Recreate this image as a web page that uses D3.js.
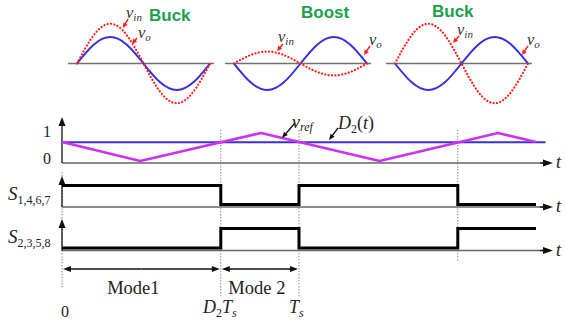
<!DOCTYPE html>
<html>
<head>
<meta charset="utf-8">
<script src="https://cdn.jsdelivr.net/npm/d3@7/dist/d3.min.js"></script>
<style>
  html, body { margin: 0; padding: 0; background: #fff; }
  svg { display: block; }
  .serif { font-family: "Liberation Serif", "Times New Roman", serif; }
  .mode-name { font-family: "Liberation Sans", Arial, sans-serif; font-weight: bold; }
</style>
</head>
<body>
<script>
// ---- Data ----
// Operating modes of the three sinusoid sketches
const modeNames = ["Buck", "Boost", "Buck"];
// Peak of input (red dotted) and output (blue) waves, relative to |vo| = 1
const vinAmp = [1.5, 0.45, 1.5];
const voAmp = [1.0, -1.0, -1.0];
// One period of a sine sampled every eighth of a cycle
const sinePhase = [0, 1, 2, 3, 4, 5, 6, 7, 8];
const sineShape = [0, 0.71, 1, 0.71, 0, -0.71, -1, -0.71, 0];

// Triangular carrier (time in units of Ts, value 0..1)
const carrierT = [0, 0.33, 0.84, 1.34, 1.84, 2.0];
const carrierV = [0.68, 0, 1, 0, 1, 0.68];
// Reference (duty) level D2(t)
const D2 = 0.67;
const refSpan = [0, 2.04];
const carrierTicks = [0, 1];

// Gate signals (step after)
const switchT = [0, 0.67, 1, 1.67, 2.0];
const s1Level = [1, 0, 1, 0, 0];
const s2Level = [0, 1, 0, 1, 1];

// Time marks and mode intervals
const markT = [0, 0.67, 1, 1.67];
const modeLabels = ["Mode1", "Mode 2"];
const modeBounds = [0, 0.67, 1];

// ---- Drawing ----
const W = 565, H = 322;
const svg = d3.select("body").append("svg").attr("width", W).attr("height", H);
svg.append("rect").attr("width", W).attr("height", H).attr("fill", "#fff");

const BLUE = "#3b2fd8", RED = "#ff1f1f", MAG = "#cc33f0", GREEN = "#1d9f4b";
const AX = "#666";

function arrow(g, x1, y1, x2, y2, color, len, wid, sw) {
  const dx = x2 - x1, dy = y2 - y1, L = Math.hypot(dx, dy);
  const ux = dx / L, uy = dy / L, px = -uy, py = ux;
  const bx = x2 - ux * len, by = y2 - uy * len;
  g.append("line").attr("x1", x1).attr("y1", y1).attr("x2", bx + ux * 1).attr("y2", by + uy * 1)
    .attr("stroke", color).attr("stroke-width", sw);
  g.append("path")
    .attr("d", `M${x2},${y2}L${bx + px * wid / 2},${by + py * wid / 2}L${bx - px * wid / 2},${by - py * wid / 2}Z`)
    .attr("fill", color);
}

function subText(g, x, y, main, sub, opts = {}) {
  const fs = opts.size || 17, ss = opts.subSize || 12;
  const t = g.append("text").attr("class", "serif").attr("x", x).attr("y", y)
    .attr("fill", opts.color || "#222").attr("font-size", fs)
    .attr("text-anchor", opts.anchor || "start");
  t.append("tspan").attr("font-style", "italic").text(main);
  t.append("tspan").attr("font-size", ss).attr("dy", opts.subDy || 4)
    .attr("font-style", opts.subItalic === false ? "normal" : "italic").text(sub);
  if (opts.after) {
    const a = t.append("tspan").attr("dy", -(opts.subDy || 4));
    a.append("tspan").text("(");
    a.append("tspan").attr("font-style", "italic").text(opts.after);
    a.append("tspan").text(")");
  }
  return t;
}

// ---- Top: three sinusoid sketches ----
const topG = svg.append("g");
const panelLeft = [77, 234, 395], panelWidth = 133;
const yAmp = d3.scaleLinear().domain([-1, 1]).range([63.5 + 26.5, 63.5 - 26.5]);

modeNames.forEach((name, i) => {
  const xP = d3.scaleLinear().domain([0, 8]).range([panelLeft[i], panelLeft[i] + panelWidth]);
  topG.append("line").attr("x1", xP(0) - 9).attr("x2", xP(8) + 4)
    .attr("y1", yAmp(0)).attr("y2", yAmp(0)).attr("stroke", "#707070").attr("stroke-width", 1.6);
  const mk = amp => d3.line().x((d, k) => xP(sinePhase[k])).y(d => yAmp(d * amp)).curve(d3.curveNatural)(sineShape);
  topG.append("path").attr("d", mk(voAmp[i])).attr("fill", "none").attr("stroke", BLUE).attr("stroke-width", 2);
  topG.append("path").attr("d", mk(vinAmp[i])).attr("fill", "none").attr("stroke", RED)
    .attr("stroke-width", 2.2).attr("stroke-dasharray", "0.1 3.3").attr("stroke-linecap", "round");
});

// Mode titles
[[149, 21], [301, 18], [432, 16.5]].forEach((p, i) => {
  topG.append("text").attr("class", "mode-name").attr("x", p[0]).attr("y", p[1])
    .attr("font-size", 17).attr("fill", GREEN).text(modeNames[i]);
});

// vin / vo callouts
const callouts = [
  { x: 126, y: 18, s: "in", a: [128, 19, 123, 28] },
  { x: 138, y: 38, s: "o", a: [137, 38, 132, 44] },
  { x: 278, y: 42, s: "in", a: [283, 44, 277, 51] },
  { x: 369, y: 45, s: "o", a: [370, 46, 364, 55] },
  { x: 457, y: 35, s: "in", a: [459, 36, 453, 43] },
  { x: 527, y: 45, s: "o", a: [528, 46, 522, 55] }
];
callouts.forEach(c => {
  subText(topG, c.x, c.y, "v", c.s, { color: "#333", size: 16.5, subSize: 11, subDy: 3 });
  arrow(topG, c.a[0], c.a[1], c.a[2], c.a[3], RED, 5, 5, 1.5);
});

// ---- Middle: carrier vs reference ----
const xT = d3.scaleLinear().domain([0, 1]).range([62, 299]);
const yCar = d3.scaleLinear().domain([0, 1]).range([161, 133]);
const mid = svg.append("g");

// dotted time marks
const markTop = [172, 130, 130, 130], markBot = [288, 296, 296, 262];
markT.forEach((t, i) => {
  mid.append("line").attr("x1", xT(t)).attr("x2", xT(t)).attr("y1", markTop[i]).attr("y2", markBot[i])
    .attr("stroke", "#8a8a8a").attr("stroke-width", 1).attr("stroke-dasharray", "1.5 1.5");
});

function axes(g, yBase, yTop) {
  g.append("line").attr("x1", xT(0)).attr("x2", 545).attr("y1", yBase).attr("y2", yBase)
    .attr("stroke", AX).attr("stroke-width", 1.3);
  arrow(g, 540, yBase, 553, yBase, "#111", 10, 7, 1.3);
  arrow(g, xT(0), yBase, xT(0), yTop, "#111", 9, 7, 1.3);
  g.append("text").attr("class", "serif").attr("x", 556).attr("y", yBase + 5)
    .attr("font-size", 18).attr("font-style", "italic").attr("fill", "#222").text("t");
}
axes(mid, 163, 117);

carrierTicks.forEach(v => {
  mid.append("text").attr("class", "serif").attr("x", 47).attr("y", yCar(v) + (v ? 4 : 3))
    .attr("text-anchor", "middle").attr("font-size", 16).attr("fill", "#222").text(v);
});

mid.append("line").attr("x1", xT(refSpan[0])).attr("x2", xT(refSpan[1]))
  .attr("y1", yCar(D2)).attr("y2", yCar(D2)).attr("stroke", BLUE).attr("stroke-width", 2);
mid.append("path")
  .attr("d", d3.line().x((d, i) => xT(carrierT[i])).y(d => yCar(d))(carrierV))
  .attr("fill", "none").attr("stroke", MAG).attr("stroke-width", 2.6).attr("stroke-linejoin", "round");

subText(mid, 292, 128, "v", "ref", { size: 18, subSize: 12, subDy: 3 });
arrow(mid, 295, 123, 282, 138, "#111", 6, 5, 1.3);
subText(mid, 338, 129, "D", "2", { size: 18, subSize: 12, subDy: 4, subItalic: false, after: "t" });
arrow(mid, 338, 128, 329, 140, "#111", 6, 5, 1.3);

// ---- Gate signals ----
function gate(levels, y0, y1, yBase, yTop, label, labelY) {
  const g = svg.append("g");
  axes(g, yBase, yTop);
  const yS = d3.scaleLinear().domain([0, 1]).range([y0, y1]);
  g.append("path")
    .attr("d", d3.line().x((d, i) => xT(switchT[i])).y(d => yS(d)).curve(d3.curveStepAfter)(levels))
    .attr("fill", "none").attr("stroke", "#000").attr("stroke-width", 3).attr("stroke-linejoin", "miter");
  subText(g, 8, labelY, "S", label, { size: 19, subSize: 12, subDy: 4, subItalic: false });
}
gate(s1Level, 204.5, 185.5, 207, 176, "1,4,6,7", 200);
gate(s2Level, 248, 228.5, 250.5, 219, "2,3,5,8", 243);

// ---- Mode intervals ----
const bot = svg.append("g");
const modeShift = [-8, -3];
modeLabels.forEach((lab, i) => {
  const a = xT(modeBounds[i]), b = xT(modeBounds[i + 1]), y = 269;
  arrow(bot, (a + b) / 2, y, a + 1, y, "#111", 8, 6, 1.5);
  arrow(bot, (a + b) / 2, y, b - 1, y, "#111", 8, 6, 1.5);
  bot.append("text").attr("class", "serif").attr("x", (a + b) / 2 + modeShift[i]).attr("y", 294)
    .attr("text-anchor", "middle").attr("font-size", 18.5).attr("fill", "#222").text(lab);
});

bot.append("text").attr("class", "serif").attr("x", xT(0) + 3).attr("y", 317)
  .attr("text-anchor", "middle").attr("font-size", 16).attr("fill", "#222").text("0");
const dt = bot.append("text").attr("class", "serif").attr("x", 203).attr("y", 313)
  .attr("font-size", 18).attr("font-style", "italic").attr("fill", "#222");
dt.append("tspan").text("D");
dt.append("tspan").attr("font-size", 12).attr("dy", 4).attr("font-style", "normal").text("2");
dt.append("tspan").attr("dy", -4).text("T");
dt.append("tspan").attr("font-size", 12).attr("dy", 4).text("s");
subText(bot, 289, 313, "T", "s", { size: 18, subSize: 12, subDy: 4 });
</script>
</body>
</html>
